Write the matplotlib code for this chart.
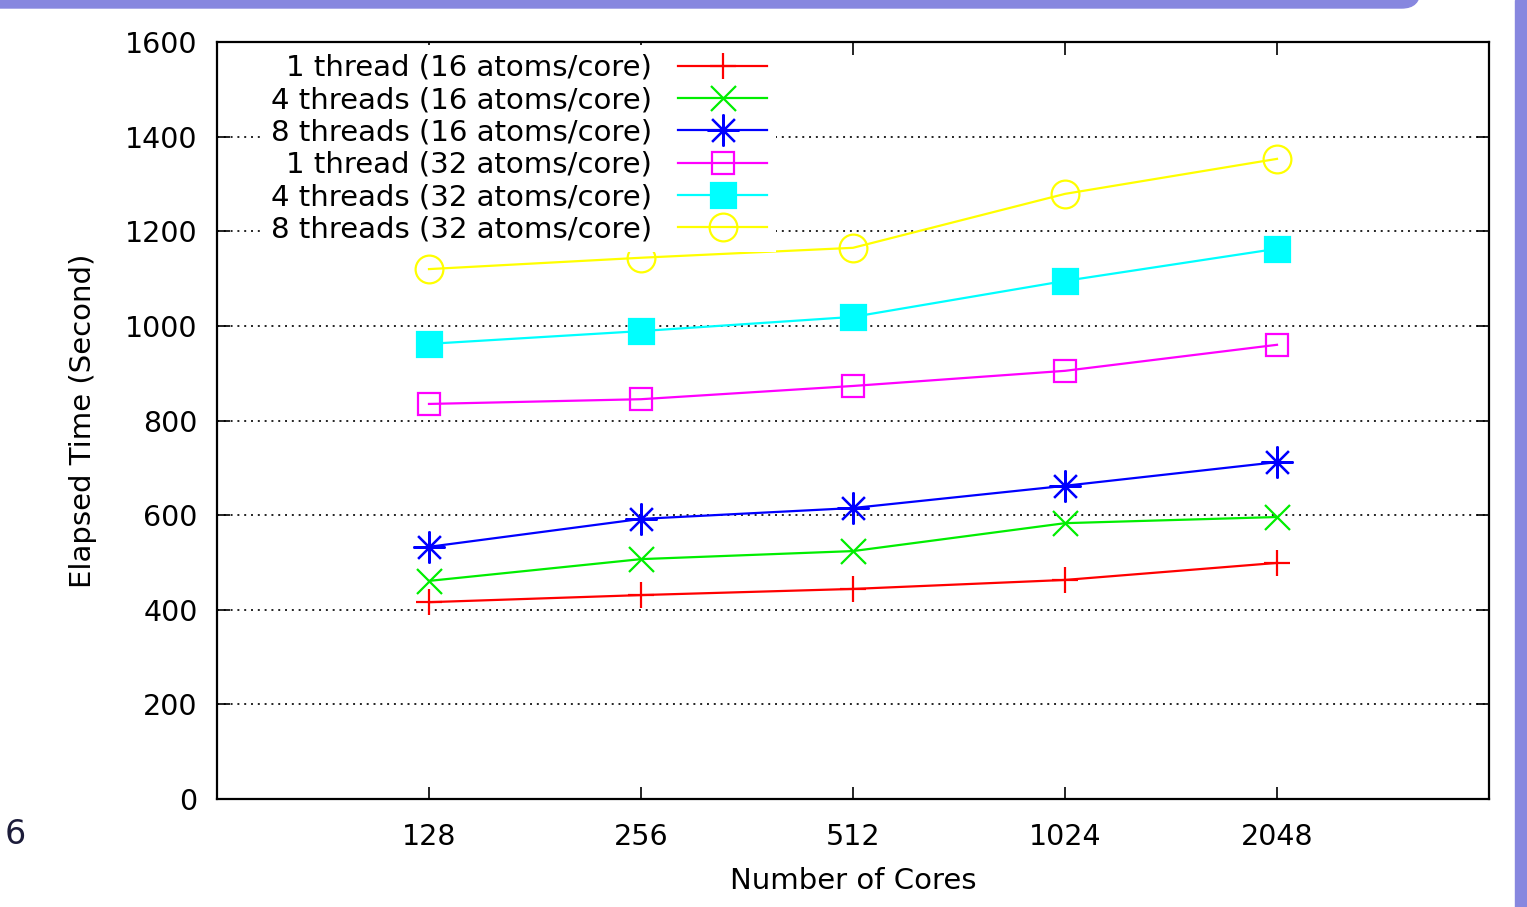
import matplotlib.pyplot as plt
from matplotlib.patches import FancyBboxPatch, Rectangle

# data
cores = ['128', '256', '512', '1024', '2048']
t1_16 = [416, 431, 444, 463, 499]
t4_16 = [461, 507, 524, 583, 596]
t8_16 = [533, 592, 615, 662, 712]
t1_32 = [835, 845, 873, 905, 960]
t4_32 = [962, 989, 1019, 1095, 1163]
t8_32 = [1120, 1144, 1165, 1279, 1353]
labels = ['1 thread (16 atoms/core)', '4 threads (16 atoms/core)',
          '8 threads (16 atoms/core)', '1 thread (32 atoms/core)',
          '4 threads (32 atoms/core)', '8 threads (32 atoms/core)']
yticks = [0, 200, 400, 600, 800, 1000, 1200, 1400, 1600]

W, H = 1527, 907
fig = plt.figure(figsize=(W / 100, H / 100), dpi=100)
fig.patch.set_facecolor('white')

# slide decoration
purple = '#8787df'
fig.patches.append(FancyBboxPatch((-30 / W, 1 - 8 / H), 1450 / W, 0.05,
                                  boxstyle='round,pad=0,rounding_size=0.012',
                                  transform=fig.transFigure, color=purple,
                                  mutation_aspect=W / H))
fig.patches.append(Rectangle((1515 / W, 0), 12 / W, 1, transform=fig.transFigure,
                             color=purple))
fig.text(15 / W, 1 - 835 / H, '6', ha='center', va='center', fontsize=24,
         color='#1c1c3a')

ax = fig.add_axes([217 / W, 1 - 799 / H, (1489 - 217) / W, (799 - 42) / H])
x = list(range(1, len(cores) + 1))

styles = [
    (t1_16, 'red', '+', 19, 'none'),
    (t4_16, '#00ee00', 'x', 18, 'none'),
    (t8_16, 'blue', (8, 2, 0), 23, 'none'),
    (t1_32, 'magenta', 's', 16, 'none'),
    (t4_32, 'cyan', 's', 18, 'cyan'),
    (t8_32, 'yellow', 'o', 20, 'none'),
]
for (vals, c, m, ms, fc), lab in zip(styles, labels):
    ax.plot(x, vals, color=c, lw=1.6, marker=m, markersize=ms,
            markerfacecolor=fc, markeredgecolor=c, markeredgewidth=1.6,
            label=lab)

ax.set_xlim(0, 6)
ax.set_ylim(0, 1600)
ax.set_xticks(x)
ax.set_xticklabels(cores)
ax.set_yticks(yticks)
ax.tick_params(axis='both', direction='in', length=9, width=1.2,
               labelsize=20.5, top=True, right=True)
ax.tick_params(axis='y', pad=14)
ax.tick_params(axis='x', pad=17)
ax.grid(axis='y', linestyle=(0, (1, 2.5)), color='#222222', lw=1.4)
for s in ax.spines.values():
    s.set_linewidth(1.6)

ax.set_xlabel('Number of Cores', fontsize=21, labelpad=12)
ax.set_ylabel('Elapsed Time (Second)', fontsize=21, labelpad=20)

leg = ax.legend(loc='upper left', bbox_to_anchor=(262 / W, 1 - 45 / H),
                bbox_transform=fig.transFigure, markerfirst=False,
                fontsize=21, labelspacing=0.15, handlelength=3.05,
                handletextpad=0.9, borderpad=0.3, borderaxespad=0,
                frameon=True, fancybox=False, framealpha=1,
                facecolor='white', edgecolor='none')

plt.savefig('out.png', dpi=100, facecolor=fig.get_facecolor())
